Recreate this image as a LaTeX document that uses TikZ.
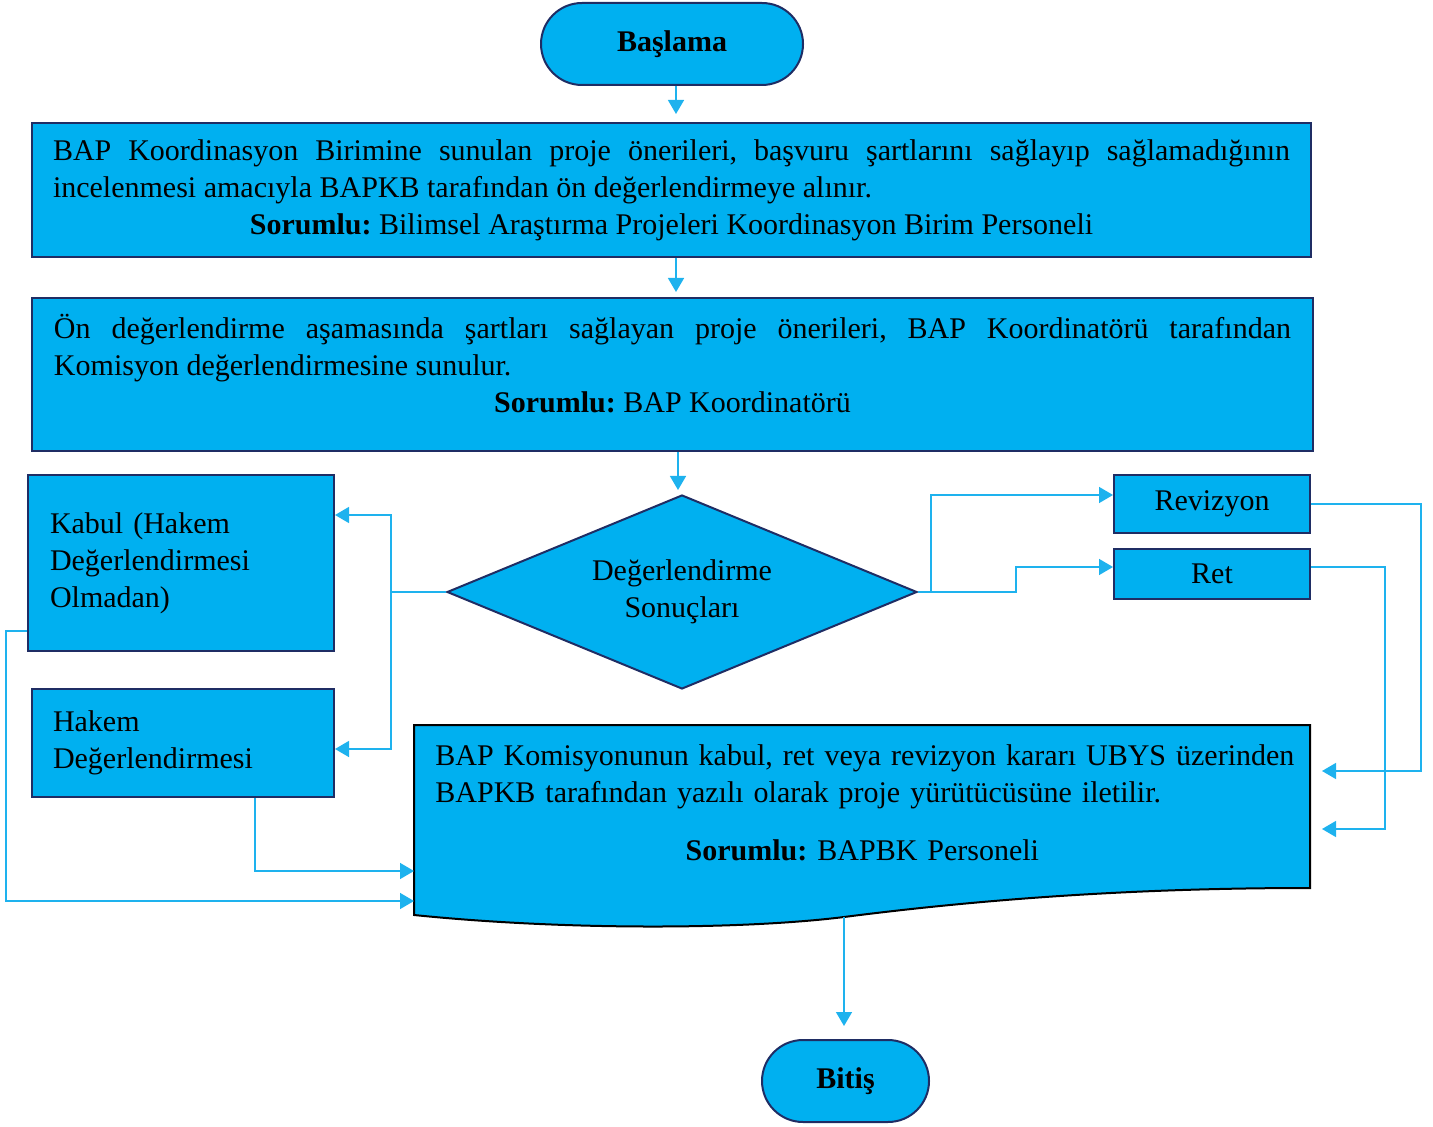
\documentclass[tikz,border=0pt]{standalone}
\usepackage{fontspec}
\setmainfont{Liberation Serif}
\usetikzlibrary{arrows.meta,shapes.geometric}
\definecolor{boxfill}{RGB}{0,176,240}
\definecolor{boxline}{RGB}{31,45,100}
\definecolor{linkline}{RGB}{30,178,238}
\hyphenpenalty=10000
\exhyphenpenalty=10000
\frenchspacing

\begin{document}
\begin{tikzpicture}[x=0.5pt, y=-0.5pt, font=\fontsize{15}{18.5}\selectfont]
    \tikzstyle{box}=[draw=boxline, fill=boxfill, line width=1pt, inner sep=0pt]
    \tikzstyle{terminal}=[box, rounded corners=20.5pt, minimum width=131pt, minimum height=41pt]
    \tikzstyle{process}=[box, text width=618.5pt, inner xsep=10.5pt, align=justify]
    \tikzstyle{choice}=[box, minimum width=98pt, align=center]
    \tikzstyle{decision}=[box, diamond, aspect=2.4, minimum width=235pt, minimum height=97pt, align=center]
    \tikzstyle{link}=[draw=linkline, line width=0.75pt, -{Triangle[length=7pt,width=8pt]}]

    \useasboundingbox (0,0) rectangle (1433,1127);

    % Start and the two process steps
    \node[terminal] (start) at (672,44) {\textbf{Başlama}};
    \node[process, minimum height=67pt] (precheck) at (671.5,190)
        {BAP Koordinasyon Birimine sunulan proje önerileri, başvuru şartlarını sağlayıp sağlamadığının\linebreak
         incelenmesi amacıyla BAPKB tarafından ön değerlendirmeye alınır.\par
         {\centering\textbf{Sorumlu:} Bilimsel Araştırma Projeleri Koordinasyon Birim Personeli\par}};
    \node[process, minimum height=76.5pt, inner xsep=11pt] (commission) at (672.5,374.5)
        {Ön değerlendirme aşamasında şartları sağlayan proje önerileri, BAP Koordinatörü tarafından\linebreak
         Komisyon değerlendirmesine sunulur.\par
         {\centering\textbf{Sorumlu:} BAP Koordinatörü\rule[-11pt]{0pt}{0pt}\par}};

    % Decision and its outcomes
    \node[decision] (result) at (682,592) {Değerlendirme\\Sonuçları};
    \node[box, minimum width=153pt, minimum height=88pt, text width=131pt, inner xsep=11pt, align=left]
        (accept) at (181,563) {Kabul (Hakem\\Değerlendirmesi\\Olmadan)};
    \node[box, minimum width=151pt, minimum height=54pt, text width=130pt, inner xsep=10.5pt, align=left]
        (referee) at (183,743) {Hakem\\Değerlendirmesi};
    \node[choice, minimum height=29pt] (revise) at (1212,504) {Revizyon};
    \node[choice, minimum height=25pt] (reject) at (1212,574) {Ret};

    % Notification (document shape)
    \draw[fill=boxfill, line width=1pt] (414,725) -- (1310,725) -- (1310,888)
        .. controls (1150,888) and (1000,897) .. (844,917)
        .. controls (740,930) and (560,930) .. (414,915) -- cycle;
    \node[anchor=north west, text width=432pt, inner sep=0pt] (notice) at (435,744)
        {\raggedright BAP Komisyonunun kabul, ret veya revizyon kararı UBYS üzerinden\\
         BAPKB tarafından yazılı olarak proje yürütücüsüne iletilir.\par
         \vspace{10.5pt}
         \centering\hspace*{-5pt}\textbf{Sorumlu:} BAPBK Personeli\par};
    \coordinate (docout) at (844,917);
    \coordinate (refin) at (414,871);
    \coordinate (acceptin) at (414,901);
    \coordinate (revisein) at (1322,771);
    \coordinate (rejectin) at (1322,829);
    \coordinate (leftsplit) at (391,592);

    \node[terminal, minimum width=83.5pt] (finish) at (845.5,1081) {\textbf{Bitiş}};

    % Main flow
    \draw[link, shorten >=4pt] (start.south -| 676,0) -- (precheck.north -| 676,0);
    \draw[link, shorten >=2.5pt] (precheck.south -| 676,0) -- (commission.north -| 676,0);
    \draw[link, shorten >=2pt] (commission.south -| 678,0) -- (result.north -| 678,0);
    \draw[link, shorten >=6.5pt] (docout) -- (docout |- finish.north);

    % Branches of the decision
    \draw[link] (result.west) -- (leftsplit) |- ([yshift=24pt]accept.east);
    \draw[link] (leftsplit) |- ([yshift=-3pt]referee.east);
    \draw[link] (result.east) -- (931,592) |- ([yshift=4.5pt]revise.west);
    \draw[link] (result.east) -- (1016,592) |- ([yshift=3.5pt]reject.west);

    % Back into the notification
    \draw[link] (revise.east) -| (1421,771) -- (revisein);
    \draw[link] ([yshift=3.5pt]reject.east) -| (1385,829) -- (rejectin);
    \draw[link] ([xshift=36pt]referee.south) |- (refin);
    \draw[link] ([yshift=-34pt]accept.west) -| (6,901) -- (acceptin);
\end{tikzpicture}
\end{document}
